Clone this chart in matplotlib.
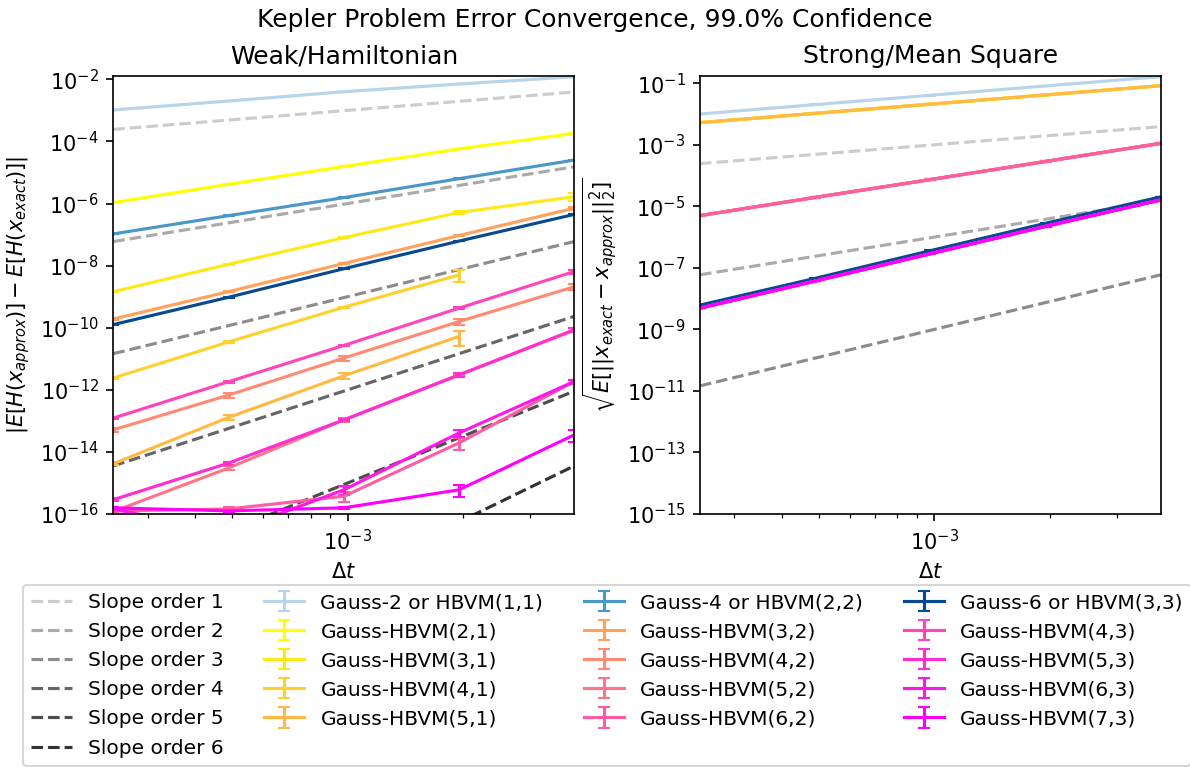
import numpy as np
import matplotlib.pyplot as plt

# step sizes (2^-12 ... 2^-8)
dt = [2.44140625e-4, 4.8828125e-4, 9.765625e-4, 1.953125e-3, 3.90625e-3]

# reference slope lines: value at the smallest and largest step
slope_orders = [1, 2, 3, 4, 5, 6]
slope_start = [2.44e-4, 5.96e-8, 1.46e-11, 3.55e-15, 8.67e-19, 2.12e-22]
slope_end = [3.91e-3, 1.53e-5, 5.96e-8, 2.33e-10, 9.09e-13, 3.55e-15]
slope_colors = ['#cccccc', '#aaaaaa', '#8c8c8c', '#666666', '#4d4d4d', '#333333']
strong_slope_orders = [1, 2, 3]

labels = ['Gauss-2 or HBVM(1,1)', 'Gauss-HBVM(2,1)', 'Gauss-HBVM(3,1)',
          'Gauss-HBVM(4,1)', 'Gauss-HBVM(5,1)',
          'Gauss-4 or HBVM(2,2)', 'Gauss-HBVM(3,2)', 'Gauss-HBVM(4,2)',
          'Gauss-HBVM(5,2)', 'Gauss-HBVM(6,2)',
          'Gauss-6 or HBVM(3,3)', 'Gauss-HBVM(4,3)', 'Gauss-HBVM(5,3)',
          'Gauss-HBVM(6,3)', 'Gauss-HBVM(7,3)']

# weak / Hamiltonian error
weak_g2 = [1.03e-3, 2.00e-3, 3.99e-3, 7.06e-3, 1.21e-2]
weak_21 = [1.07e-6, 4.17e-6, 1.55e-5, 5.75e-5, 1.82e-4]
weak_31 = [1.45e-9, 1.10e-8, 7.94e-8, 5.13e-7, 1.66e-6]
weak_41 = [2.40e-12, 3.47e-11, 4.57e-10, 5.0e-9, np.nan]
weak_51 = [4.17e-15, 1.29e-13, 2.82e-12, 5.25e-11, np.nan]
weak_g4 = [1.05e-7, 4.07e-7, 1.55e-6, 6.31e-6, 2.51e-5]
weak_32 = [1.91e-10, 1.45e-9, 1.17e-8, 9.33e-8, 7.08e-7]
weak_42 = [5.13e-14, 6.76e-13, 1.05e-11, 1.58e-10, 2.09e-9]
weak_52 = [1.2e-16, 3.02e-15, 1.07e-13, 3.02e-12, 8.5e-11]
weak_62 = [1.26e-16, 1.45e-16, 3.72e-16, 1.95e-14, 1.86e-12]
weak_g6 = [1.26e-10, 9.55e-10, 7.94e-9, 6.17e-8, 4.47e-7]
weak_43 = [1.23e-13, 1.82e-12, 2.69e-11, 4.27e-10, 6.46e-9]
weak_53 = [2.88e-16, 4.37e-15, 1.07e-13, 3.02e-12, 8.5e-11]
weak_63 = [1.45e-16, 2.5e-17, 6.0e-16, 4.07e-14, 1.86e-12]
weak_73 = [1.58e-16, 1.26e-16, 1.58e-16, 6.0e-16, 3.55e-14]

# relative half-width of the confidence intervals
werr_g2 = [0.01, 0.01, 0.01, 0.01, 0.01]
werr_21 = [0.02, 0.02, 0.02, 0.02, 0.02]
werr_31 = [0.05, 0.05, 0.05, 0.08, 0.30]
werr_41 = [0.05, 0.05, 0.05, 0.40, 0.0]
werr_51 = [0.10, 0.18, 0.20, 0.50, 0.0]
werr_g4 = [0.02, 0.02, 0.02, 0.02, 0.02]
werr_32 = [0.05, 0.05, 0.05, 0.05, 0.10]
werr_42 = [0.15, 0.18, 0.20, 0.25, 0.20]
werr_52 = [0.10, 0.15, 0.15, 0.10, 0.15]
werr_62 = [0.10, 0.15, 0.35, 0.40, 0.15]
werr_g6 = [0.03, 0.03, 0.03, 0.03, 0.03]
werr_43 = [0.05, 0.08, 0.05, 0.08, 0.15]
werr_53 = [0.12, 0.12, 0.10, 0.12, 0.15]
werr_63 = [0.10, 0.20, 0.30, 0.25, 0.15]
werr_73 = [0.10, 0.10, 0.10, 0.40, 0.40]

# strong / mean square error
strong_g2 = [1.0e-2, 2.02e-2, 4.06e-2, 8.17e-2, 1.64e-1]
strong_s1 = [5.25e-3, 1.05e-2, 2.09e-2, 4.17e-2, 8.36e-2]
strong_s2 = [5.0e-6, 1.95e-5, 7.4e-5, 2.88e-4, 1.12e-3]
strong_g6 = [6.17e-9, 4.57e-8, 3.63e-7, 2.82e-6, 2.04e-5]
strong_s3 = [4.9e-9, 3.72e-8, 2.88e-7, 2.24e-6, 1.62e-5]

weak = [weak_g2, weak_21, weak_31, weak_41, weak_51,
        weak_g4, weak_32, weak_42, weak_52, weak_62,
        weak_g6, weak_43, weak_53, weak_63, weak_73]
weak_err = [werr_g2, werr_21, werr_31, werr_41, werr_51,
            werr_g4, werr_32, werr_42, werr_52, werr_62,
            werr_g6, werr_43, werr_53, werr_63, werr_73]
strong = [strong_g2, strong_s1, strong_s1, strong_s1, strong_s1,
          strong_s2, strong_s2, strong_s2, strong_s2, strong_s2,
          strong_g6, strong_s3, strong_s3, strong_s3, strong_s3]

# gauss methods in blues, the other HBVMs along the spring colormap
blues = plt.get_cmap('Blues')
spring = plt.get_cmap('spring')
gauss_idx = [0, 5, 10]
hb_idx = [i for i in range(15) if i not in gauss_idx]
colors = [None] * 15
for c, i in zip([0.3, 0.6, 0.9], gauss_idx):
    colors[i] = blues(c)
for c, i in zip(np.linspace(1, 0, len(hb_idx)), hb_idx):
    colors[i] = spring(c)

W, H, DPI = 1190, 767, 150
fig = plt.figure(figsize=(W / DPI, H / DPI), dpi=DPI)
ax_w = fig.add_axes([113.3 / W, 1 - 514 / H, 461 / W, 438 / H])
ax_s = fig.add_axes([700 / W, 1 - 514 / H, 461 / W, 438 / H])

for p, a, b, c in zip(slope_orders, slope_start, slope_end, slope_colors):
    ax_w.plot([dt[0], dt[-1]], [a, b], '--', color=c, label=f'Slope order {p}')
    if p in strong_slope_orders:
        ax_s.plot([dt[0], dt[-1]], [a, b], '--', color=c)

for lab, col, yw, ew, ys in zip(labels, colors, weak, weak_err, strong):
    yw = np.array(yw)
    ax_w.errorbar(dt, yw, yerr=yw * np.array(ew), color=col, capsize=3, label=lab)
    ys = np.array(ys)
    ax_s.errorbar(dt, ys, yerr=ys * 0.02, color=col, capsize=3)

for ax in (ax_w, ax_s):
    ax.set_xscale('log')
    ax.set_yscale('log')
    ax.set_xlim(dt[0], dt[-1])
    ax.set_xlabel(r'$\Delta t$')

ax_w.set_ylim(1e-16, 1.28e-2)
ax_s.set_ylim(1e-15, 0.172)
ax_w.set_title('Weak/Hamiltonian')
ax_s.set_title('Strong/Mean Square')
ax_w.set_ylabel(r'$|E[H(x_{approx})] - E[H(x_{exact})]|$')
ax_s.set_ylabel(r'$\sqrt{E[||x_{exact} - x_{approx}||_2^2]}$')
fig.suptitle('Kepler Problem Error Convergence, 99.0% Confidence',
             y=1 - 8 / H, va='top')

handles, labs = ax_w.get_legend_handles_labels()
fig.legend(handles, labs, ncol=4, loc='upper left', fontsize=9.7,
           bbox_to_anchor=(23 / W, 1 - 585 / H), borderaxespad=0)

fig.savefig('out.png', dpi=DPI)
